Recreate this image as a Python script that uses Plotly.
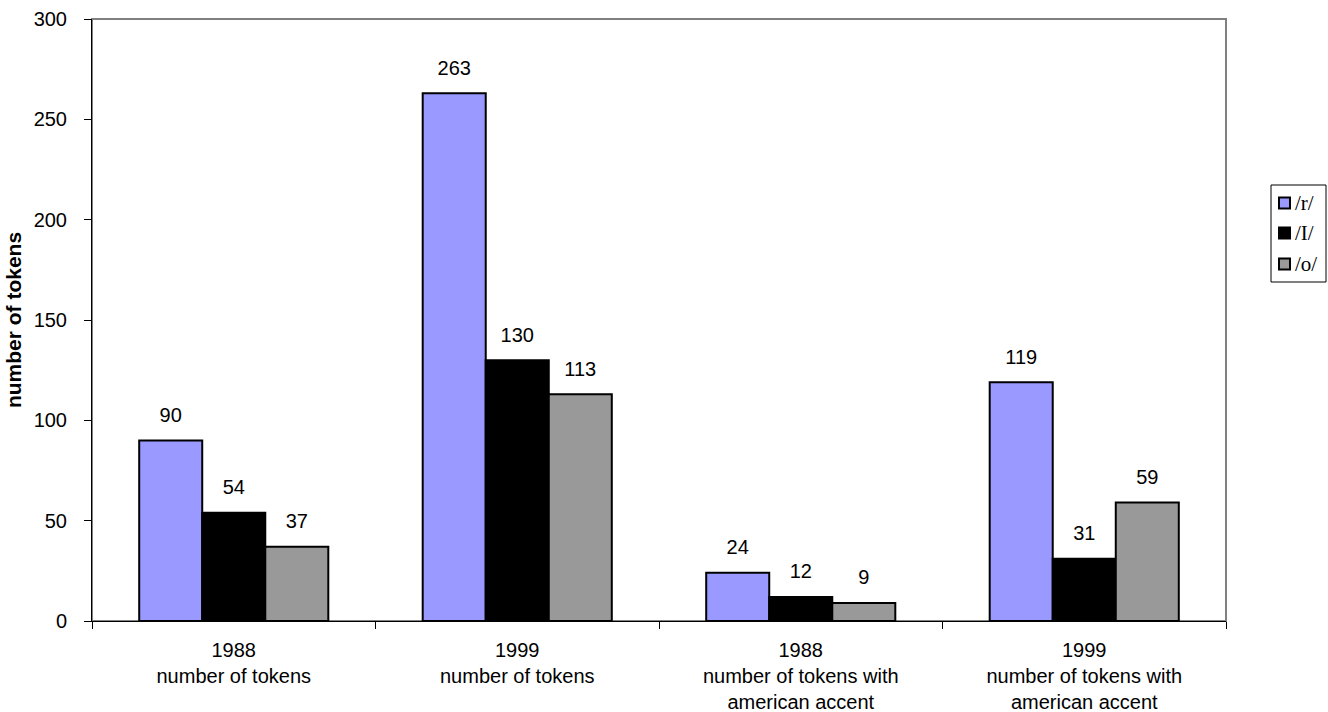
import plotly.graph_objects as go

# Token counts per sound, for each year / token type
categories = [
    "1988<br>number of tokens",
    "1999<br>number of tokens",
    "1988<br>number of tokens with<br>american accent",
    "1999<br>number of tokens with<br>american accent",
]
series_names = ["/r/", "/I/", "/o/"]
r_values = [90, 263, 24, 119]
i_values = [54, 130, 12, 31]
o_values = [37, 113, 9, 59]
y_ticks = [0, 50, 100, 150, 200, 250, 300]

series_values = [r_values, i_values, o_values]
fill_colors = ["#9999FF", "#000000", "#999999"]

SANS = "Arial, Liberation Sans, sans-serif"
SERIF = "Times New Roman, Liberation Serif, serif"

W, H = 1328, 712
M_L, M_R, M_T, M_B = 92, 102, 19, 91
PLOT_W = W - M_L - M_R
PLOT_H = H - M_T - M_B


def px_to_paper_x(px):
    return (px - M_L) / PLOT_W


def px_to_paper_y(py):
    return (H - M_B - py) / PLOT_H


fig = go.Figure()

for name, vals, color in zip(series_names, series_values, fill_colors):
    fig.add_trace(go.Bar(
        x=categories,
        y=vals,
        name=name,
        offsetgroup=name,
        showlegend=False,
        marker=dict(color=color, line=dict(color="#000000", width=2)),
    ))

# Value labels sitting above each bar (invisible marker pushes the text up)
for name, vals in zip(series_names, series_values):
    fig.add_trace(go.Scatter(
        x=categories,
        y=vals,
        mode="markers+text",
        marker=dict(size=20, opacity=0),
        text=[str(v) for v in vals],
        textposition="top center",
        textfont=dict(family=SANS, size=20, color="#000000"),
        offsetgroup=name,
        showlegend=False,
        hoverinfo="skip",
        cliponaxis=False,
    ))

# Plot frame: grey top/right edges, axes drawn in black on top
shapes = [dict(
    type="rect", xref="paper", yref="paper",
    x0=0, x1=1, y0=0, y1=1,
    line=dict(color="#808080", width=2),
    layer="below",
)]
annotations = []

# Legend box on the right with a swatch and label per series
LEG_X0, LEG_X1, LEG_Y0, LEG_Y1 = 1271, 1326, 185, 282
shapes.append(dict(
    type="rect", xref="paper", yref="paper",
    x0=px_to_paper_x(LEG_X0), x1=px_to_paper_x(LEG_X1),
    y0=px_to_paper_y(LEG_Y1), y1=px_to_paper_y(LEG_Y0),
    line=dict(color="#000000", width=1),
    fillcolor="#FFFFFF",
))
row_centers = [203, 233, 264]
for name, color, cy in zip(series_names, fill_colors, row_centers):
    shapes.append(dict(
        type="rect", xref="paper", yref="paper",
        x0=px_to_paper_x(1279), x1=px_to_paper_x(1290),
        y0=px_to_paper_y(cy + 5.5), y1=px_to_paper_y(cy - 5.5),
        line=dict(color="#000000", width=2),
        fillcolor=color,
    ))
    annotations.append(dict(
        xref="paper", yref="paper",
        x=px_to_paper_x(1293), y=px_to_paper_y(cy),
        xanchor="left", yanchor="middle",
        text=name, showarrow=False,
        font=dict(family=SERIF, size=21, color="#000000"),
    ))

fig.update_layout(
    width=W,
    height=H,
    barmode="group",
    scattermode="group",
    bargap=0.333,
    bargroupgap=0,
    paper_bgcolor="#FFFFFF",
    plot_bgcolor="#FFFFFF",
    margin=dict(l=M_L, r=M_R, t=M_T, b=M_B, autoexpand=False),
    font=dict(family=SANS, size=20, color="#000000"),
    showlegend=False,
    shapes=shapes,
    annotations=annotations,
)

fig.update_xaxes(
    showline=True, linecolor="#000000", linewidth=1,
    ticks="outside", tickson="boundaries", ticklen=7, tickcolor="#000000",
    tickfont=dict(size=20),
    ticklabelstandoff=11,
    showgrid=False,
)
fig.update_yaxes(
    range=[0, 300],
    tickvals=y_ticks,
    showline=True, linecolor="#000000", linewidth=1,
    ticks="outside", ticklen=7, tickcolor="#000000",
    tickfont=dict(size=20),
    ticklabelstandoff=13,
    showgrid=False, zeroline=False,
    title=dict(text="<b>number of tokens</b>", font=dict(size=21), standoff=6),
)

fig.write_html("out.html")
